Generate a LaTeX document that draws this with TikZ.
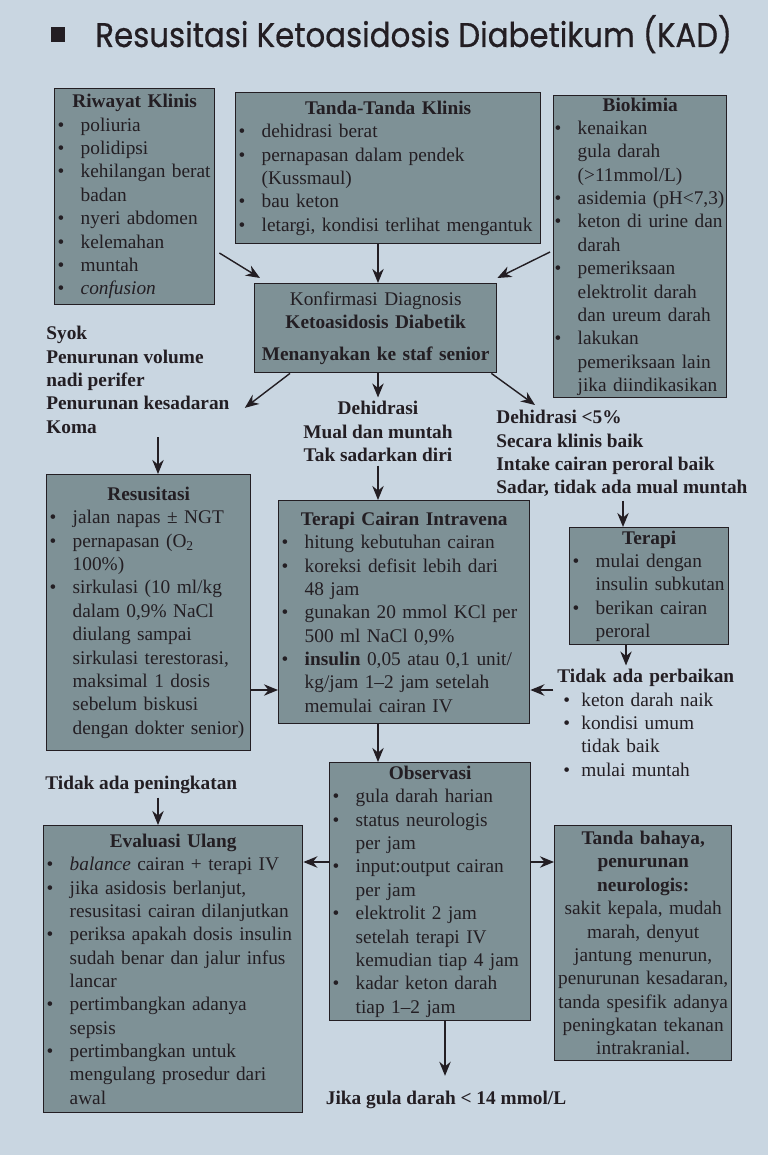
\documentclass[tikz,border=0pt]{standalone}
\usepackage{fontspec}
\setmainfont{Liberation Serif}
\newfontfamily\titlefont[FakeBold=0.6]{Poppins}
\usetikzlibrary{arrows.meta,positioning}
\definecolor{bg}{RGB}{201,214,225}
\definecolor{boxfill}{RGB}{126,145,150}
\definecolor{ink}{RGB}{35,30,35}
\newcommand{\itm}{\par\noindent\hangindent=0.46cm\hangafter=1\makebox[0.46cm][l]{\textbullet}}
\newcommand{\subitm}{\par\noindent\mdseries\hangindent=0.48cm\hangafter=1\hspace{0.12cm}\makebox[0.36cm][l]{\textbullet}}
\newcommand{\boxhead}[1]{{\centering\textbf{#1}\par}}
\tikzset{
    block/.style={
        rectangle, draw=ink, line width=0.8pt, fill=boxfill,
        anchor=north west, inner sep=0.06cm, align=left,
        font=\fontsize{11}{13.3}\selectfont, text=ink
    },
    free/.style={
        inner sep=0pt, align=left, text=ink,
        font=\fontsize{11}{13.3}\selectfont\bfseries
    },
    connector/.style={
        line width=0.8pt, draw=ink,
        -{Stealth[length=8pt,width=6.5pt]}
    }
}
\begin{document}
\begin{tikzpicture}[x=0.02cm, y=-0.02cm]
    \fill[bg] (0,0) rectangle (768,1155);
    \useasboundingbox (0,0) rectangle (768,1155);

    \node[fill=ink, minimum size=0.3cm, inner sep=0pt] (sq) at (58,35) {};
    \node[anchor=base west, inner sep=0pt, text=ink] (title) at (95,47)
        {\scalebox{0.9}[1]{\titlefont\fontsize{19.5}{20}\selectfont Resusitasi Ketoasidosis Diabetikum (KAD)}};

    \node[block, text width=3.08cm, minimum height=4.32cm] (riwayat) at (54,88) {
        \boxhead{Riwayat Klinis}
        \itm poliuria
        \itm polidipsi
        \itm kehilangan berat\newline badan
        \itm nyeri abdomen
        \itm kelemahan
        \itm muntah
        \itm \emph{confusion}\par};
    \node[block, text width=5.98cm, minimum height=3.02cm] (tanda) at (235,92) {
        \boxhead{Tanda-Tanda Klinis}
        \itm dehidrasi berat
        \itm pernapasan dalam pendek\newline (Kussmaul)
        \itm bau keton
        \itm letargi, kondisi terlihat mengantuk\par};
    \node[block, inner xsep=0.02cm, inner ysep=0.02cm, text width=3.42cm, minimum height=6.04cm] (bio) at (553,95) {
        \boxhead{Biokimia}
        \itm kenaikan\newline gula darah\newline (>11mmol/L)
        \itm \mbox{asidemia (pH<7,3)}
        \itm \mbox{keton di urine dan}\newline darah
        \itm pemeriksaan\newline elektrolit darah\newline dan ureum darah
        \itm lakukan\newline pemeriksaan lain\newline jika diindikasikan\par};
    \node[block, align=center, text width=4.72cm, minimum height=1.78cm] (konf) at (254,283)
        {Konfirmasi Diagnosis\\\textbf{Ketoasidosis Diabetik}\\[0.16cm]\textbf{Menanyakan ke staf senior}};

    \node[free, anchor=north west] (syok) at (46,326)
        {Syok\\Penurunan volume\\nadi perifer\\Penurunan kesadaran\\Koma};
    \node[free, align=center, anchor=north] (dehid) at (378,401)
        {Dehidrasi\\Mual dan muntah\\Tak sadarkan diri};
    \node[free, anchor=north west] (dehid5) at (496,410)
        {Dehidrasi <5\%\\Secara klinis baik\\Intake cairan peroral baik\\Sadar, tidak ada mual muntah};

    \node[block, text width=3.96cm, minimum height=5.52cm] (resus) at (46,474) {
        \boxhead{Resusitasi}
        \itm jalan napas ± NGT
        \itm pernapasan (O\textsubscript{2}\newline 100\%)
        \itm sirkulasi (10 ml/kg\newline dalam 0,9\% NaCl\newline diulang sampai\newline sirkulasi terestorasi,\newline maksimal 1 dosis\newline sebelum biskusi\newline dengan dokter senior)\par};
    \node[block, text width=4.9cm, minimum height=4.46cm] (tci) at (278,500) {
        \boxhead{Terapi Cairan Intravena}
        \itm hitung kebutuhan cairan
        \itm koreksi defisit lebih dari\newline 48 jam
        \itm gunakan 20 mmol KCl per\newline 500 ml NaCl 0,9\%
        \itm \textbf{insulin} 0,05 atau 0,1 unit/\newline kg/jam 1--2 jam setelah\newline memulai cairan IV\par};
    \node[block, text width=3.06cm, minimum height=2.28cm] (ter) at (569,527) {
        \boxhead{Terapi}
        \itm mulai dengan\newline insulin subkutan
        \itm berikan cairan\newline peroral\par};
    \node[free, text width=3.8cm, anchor=north west] (perb) at (557,669) {
        Tidak ada perbaikan
        \subitm keton darah naik
        \subitm kondisi umum\newline tidak baik
        \subitm mulai muntah\par};

    \node[block, text width=3.9cm, minimum height=5.16cm] (obs) at (329,762) {
        \boxhead{Observasi}
        \itm gula darah harian
        \itm status neurologis\newline per jam
        \itm input:output cairan\newline per jam
        \itm elektrolit 2 jam\newline setelah terapi IV\newline kemudian tiap 4 jam
        \itm kadar keton darah\newline tiap 1--2 jam\par};
    \node[free, anchor=west] (pen) at (45,785) {Tidak ada peningkatan};
    \node[block, text width=5.06cm, minimum height=5.74cm] (eval) at (43,825) {
        \boxhead{Evaluasi Ulang}
        \itm \emph{balance} cairan + terapi IV
        \itm jika asidosis berlanjut,\newline resusitasi cairan dilanjutkan
        \itm periksa apakah dosis insulin\newline sudah benar dan jalur infus\newline lancar
        \itm pertimbangkan adanya\newline sepsis
        \itm pertimbangkan untuk\newline mengulang prosedur dari\newline awal\par};
    \node[block, align=center, text width=3.42cm, minimum height=4.7cm] (bahaya) at (554,825)
        {\textbf{Tanda bahaya,}\\\textbf{penurunan}\\\textbf{neurologis:}\\sakit kepala, mudah\\marah, denyut\\jantung menurun,\\penurunan kesadaran,\\tanda spesifik adanya\\peningkatan tekanan\\intrakranial.};
    \node[free] (jika) at (446,1100) {Jika gula darah < 14 mmol/L};

    \coordinate (xmid) at (378,0);
    \coordinate (xres) at (158,0);
    \coordinate (xter) at (623,0);
    \coordinate (xper) at (626,0);
    \coordinate (xjika) at (445,0);
    \coordinate (yres) at (0,690);
    \coordinate (yobs) at (0,862);

    \draw[connector] ([shift={(4,165)}]riwayat.north east) -- ([shift={(6,-5)}]konf.north west);
    \draw[connector] (tanda.south -| xmid) -- (konf.north -| xmid);
    \draw[connector] ([shift={(-3,157)}]bio.north west) -- ([shift={(0,-5)}]konf.north east);
    \draw[connector] ([shift={(36,0)}]konf.south west) -- ([shift={(15,28)}]syok.east);
    \draw[connector, shorten >=2pt] (konf.south -| xmid) -- (dehid.north -| xmid);
    \draw[connector] ([shift={(-6,0)}]konf.south east) -- ([shift={(39,-5)}]dehid5.north west);
    \draw[connector, shorten <=2pt] (syok.south -| xres) -- (resus.north -| xres);
    \draw[connector, shorten <=2pt] (dehid.south -| xmid) -- (tci.north -| xmid);
    \draw[connector, shorten <=2pt] (dehid5.south -| xter) -- (ter.north -| xter);
    \draw[connector] (resus.east |- yres) -- (tci.west |- yres);
    \draw[connector, shorten >=2pt] (ter.south -| xper) -- (perb.north -| xper);
    \draw[connector, shorten <=2pt] (perb.west |- yres) -- (tci.east |- yres);
    \draw[connector] (tci.south -| xmid) -- (obs.north -| xmid);
    \draw[connector] (obs.west |- yobs) -- (eval.east |- yobs);
    \draw[connector] (obs.east |- yobs) -- (bahaya.west |- yobs);
    \draw[connector, shorten <=2pt] (pen.south -| xres) -- (eval.north -| xres);
    \draw[connector, shorten >=0.3cm] (obs.south -| xjika) -- (jika.north -| xjika);
\end{tikzpicture}
\end{document}
